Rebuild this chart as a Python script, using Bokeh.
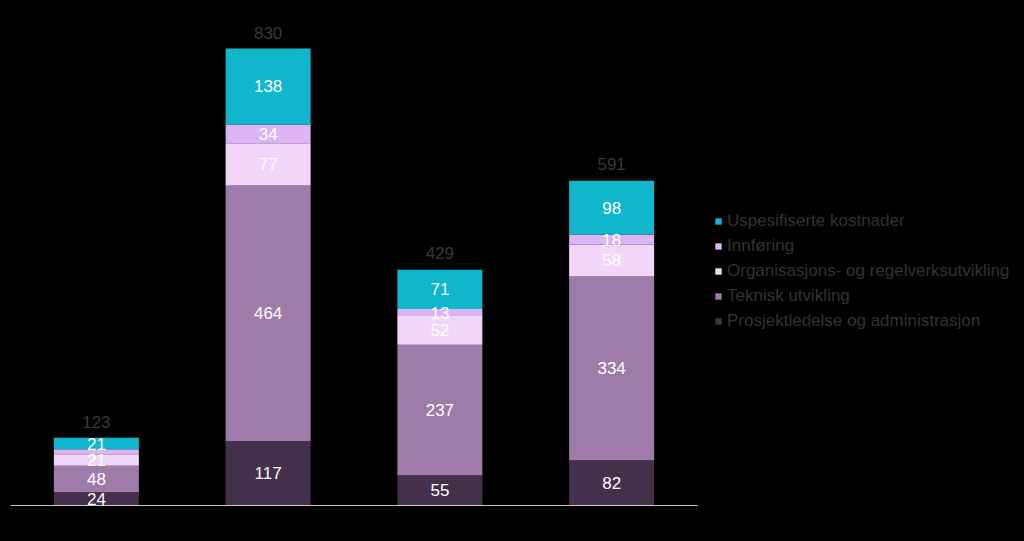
from bokeh.plotting import figure
from bokeh.models import ColumnDataSource, Legend, LegendItem, Range1d
from bokeh.core.properties import value
from bokeh.embed import file_html
from bokeh.resources import INLINE

# ---- data ----
categories = ["1", "2", "3", "4"]
series_names = [
    "Prosjektledelse og administrasjon",
    "Teknisk utvikling",
    "Organisasjons- og regelverksutvikling",
    "Innføring",
    "Uspesifiserte kostnader",
]
prosjektledelse = [24, 117, 55, 82]
teknisk = [48, 464, 237, 334]
organisasjon = [21, 77, 52, 58]
innforing = [9, 34, 13, 18]
uspesifisert = [21, 138, 71, 98]
totals = [123, 830, 429, 591]

colors = ["#44304b", "#9f7ba9", "#f1d6f9", "#dcb3f4", "#10b7cc"]
FONT = "Liberation Sans"

series = [prosjektledelse, teknisk, organisasjon, innforing, uspesifisert]
keys = ["s0", "s1", "s2", "s3", "s4"]
xs = list(range(len(categories)))
data = {"x": xs}
for k, s in zip(keys, series):
    data[k] = s
source = ColumnDataSource(data)

W, H = 1024, 541
px_per_cat = 171.75
x_start = -0.5 - 10 / px_per_cat
x_end = x_start + W / px_per_cat
px_per_unit = 0.5506
y_start = -(H - 505) / px_per_unit
y_end = 505 / px_per_unit

p = figure(width=W, height=H, output_backend="svg", toolbar_location=None,
           x_range=Range1d(x_start, x_end), y_range=Range1d(y_start, y_end),
           min_border=0, min_border_left=0, min_border_right=0,
           min_border_top=0, min_border_bottom=0)
p.background_fill_color = "black"
p.border_fill_color = "black"
p.outline_line_color = None
p.xaxis.visible = False
p.yaxis.visible = False
p.xgrid.visible = False
p.ygrid.visible = False

renderers = p.vbar_stack(keys, x="x", width=0.495, source=source,
                         color=colors, line_color=None)

# baseline
p.segment(x0=[-0.5], x1=[len(categories) - 0.5], y0=[0], y1=[0],
          line_color="#c8c8c8", line_width=1)

# segment labels
lx, ly, lt = [], [], []
for i in xs:
    cum = 0
    for s in series:
        v = s[i]
        if v >= 10:
            lx.append(i)
            ly.append(cum + v / 2)
            lt.append(str(v))
        cum += v
p.text(x=lx, y=ly, text=lt, text_color="white", text_font=value(FONT),
       text_font_size="17px", text_align="center", text_baseline="middle")

# totals
p.text(x=xs, y=totals, text=[str(t) for t in totals], text_color="#3a3a3a",
       text_font=value(FONT), text_font_size="17px", text_align="center",
       text_baseline="middle", y_offset=-16)

items = [LegendItem(label=n, renderers=[r]) for n, r in zip(series_names, renderers)]
items = items[::-1]
legend = Legend(items=items, location=(714, 210), orientation="vertical",
                glyph_width=8, glyph_height=8, label_height=20, spacing=5,
                label_standoff=5, padding=0, margin=0,
                label_text_font=FONT, label_text_font_size="17px",
                label_text_color="#333333",
                background_fill_alpha=0, border_line_color=None)
p.add_layout(legend, "center")

html = file_html(p, INLINE)
html = html.replace("</head>", "<style>body{background:#000;}</style></head>")
open("out.html", "w").write(html)
